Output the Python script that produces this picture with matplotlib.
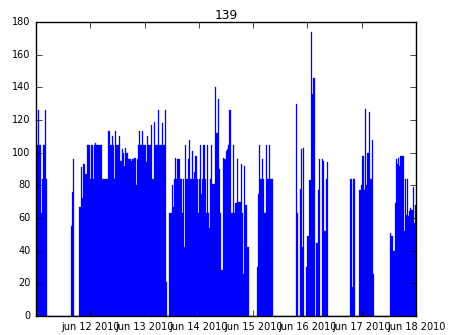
import datetime as dt

import matplotlib
matplotlib.use('Agg')
import matplotlib.pyplot as plt
import matplotlib.dates as mdates

plt.style.use('classic')

# half-hourly counts, one list per day
jun11 = [105, 105, 126, 105, 63, 84, 105, 105, 126, 84, 0,
         0, 0, 0, 0, 0, 0, 0, 0, 0, 0, 0, 0, 0, 0, 0, 0, 0, 0, 0, 0,
         55, 76, 96, 0, 0, 0, 0, 67, 67, 91, 72, 93, 87, 87, 105, 105, 105]
jun12 = [84, 105, 84, 105, 106, 105, 105, 105, 105, 105,
         84, 84, 84, 84, 84, 84, 113, 105, 105, 110,
         105, 84, 113, 105, 105, 110, 95, 95, 102, 100,
         92, 103, 100, 96, 96, 96, 95, 96, 96, 97,
         80, 96, 105, 113, 105, 105, 113, 105]
jun13 = [105, 94, 110, 105, 105, 105, 117, 84, 119, 105, 105, 105, 126, 105, 105, 118, 105,
         105, 126, 21, 0, 0, 63, 63, 80, 67, 84, 97, 84, 96, 96, 84,
         84, 63, 84, 42, 105, 84, 96, 108, 84, 84, 101, 84, 88, 98, 84, 63]
jun14 = [84, 105, 75, 84, 105, 84, 63, 105, 63, 54, 84, 105, 81, 81, 140, 112,
         112, 133, 90, 63, 28, 97, 96, 96, 101, 102,
         105, 126, 63, 63, 105, 63, 69, 69, 96, 70, 70, 93, 63, 26, 92, 68,
         68, 42, 0, 0, 0, 0]
jun15 = [0, 0, 0, 30, 75, 105, 84, 84, 96, 84, 63, 105, 84, 84, 105, 84, 84, 84,
         0, 0, 0, 0, 0, 0, 0, 0, 0, 0, 0, 0, 0, 0, 0, 0, 0, 0, 0,
         0, 130, 63, 0, 78, 102, 42, 103, 0, 0, 30]
jun16 = [49, 83, 83, 174, 136, 146, 146, 0, 45, 77, 96, 0, 0, 96, 95, 52, 84, 94,
         0, 0, 0, 0, 0, 0, 0, 0, 0, 0, 0, 0, 0, 0, 0, 0, 0, 0, 0, 0,
         84, 18, 84, 84, 0, 0, 0, 0, 77, 80]
jun17 = [98, 98, 77, 127, 80, 100, 125, 84, 84, 108, 26,
         0, 0, 0, 0, 0, 0, 0, 0, 0, 0, 0, 0, 0, 0,
         51, 49, 49, 40, 69, 96, 93, 97, 92, 98, 98, 98, 52, 84, 62,
         84, 61, 64, 66, 65, 79, 57, 68]

tick_labels = ['jun 12 2010', 'jun 13 2010', 'jun 14 2010', 'jun 15 2010',
               'jun 16 2010', 'jun 17 2010', 'jun 18 2010']

start = dt.datetime(2010, 6, 11)
values = jun11 + jun12 + jun13 + jun14 + jun15 + jun16 + jun17
times = [start + dt.timedelta(minutes=30 * i) for i in range(len(values))]

fig = plt.figure(figsize=(4.51, 3.35), dpi=100, facecolor='white')
ax = fig.add_axes([0.0798, 0.0567, 0.8426, 0.8776])
ax.bar(mdates.date2num(times), values, width=1 / 48., align='edge',
       color='b', edgecolor='b', linewidth=0.2)

ax.set_xlim(mdates.date2num(start), mdates.date2num(start + dt.timedelta(days=7)))
ax.set_ylim(0, 180)
ticks = [start + dt.timedelta(days=d) for d in range(1, 8)]
ax.set_xticks(mdates.date2num(ticks))
ax.set_xticklabels(tick_labels)
ax.set_yticks(range(0, 181, 20))
ax.tick_params(labelsize=7)
ax.set_title('139', fontsize=8.8, pad=2)

fig.savefig('out.png', dpi=100, facecolor='white')
